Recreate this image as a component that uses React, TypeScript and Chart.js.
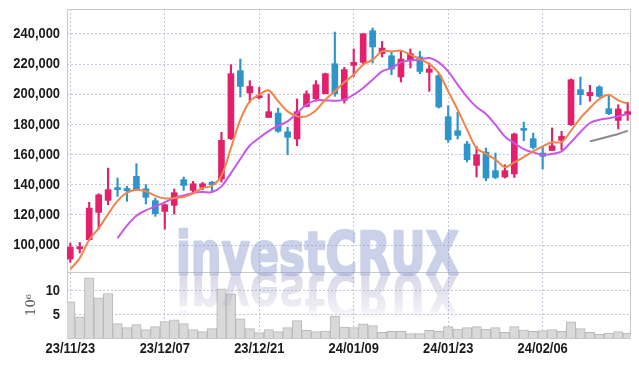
import React, { useEffect, useRef } from 'react';
import { Chart, registerables } from 'chart.js';

Chart.register(...registerables);

const dates = [
  '23/11/23', '23/11/24', '23/11/27', '23/11/28', '23/11/29', '23/11/30', '23/12/01', '23/12/04', '23/12/05', '23/12/06',
  '23/12/07', '23/12/08', '23/12/11', '23/12/12', '23/12/13', '23/12/14', '23/12/15', '23/12/18', '23/12/19', '23/12/20',
  '23/12/21', '23/12/22', '23/12/26', '23/12/27', '23/12/28', '24/01/02', '24/01/03', '24/01/04', '24/01/05', '24/01/08',
  '24/01/09', '24/01/10', '24/01/11', '24/01/12', '24/01/15', '24/01/16', '24/01/17', '24/01/18', '24/01/19', '24/01/22',
  '24/01/23', '24/01/24', '24/01/25', '24/01/26', '24/01/29', '24/01/30', '24/01/31', '24/02/01', '24/02/02', '24/02/05',
  '24/02/06', '24/02/07', '24/02/08', '24/02/13', '24/02/14', '24/02/15', '24/02/16', '24/02/19', '24/02/20', '24/02/21',
];

const opens = [
  90700, 97500, 103500, 121600, 129600, 137300, 137500, 145500, 137300, 129400,
  122300, 126300, 143300, 136200, 138200, 141700, 143700, 170500, 215600, 200800,
  197700, 184600, 187500, 175100, 170300, 191900, 197000, 200300, 220200, 195900,
  219100, 221100, 242100, 226900, 225500, 211400, 222400, 224700, 214500, 212300,
  185100, 175800, 167000, 152800, 161600, 149300, 145100, 147100, 177100, 170500,
  161000, 162700, 169400, 179800, 203000, 199000, 204800, 190400, 182600, 186600,
];
const highs = [
  101300, 101700, 128300, 134000, 151000, 144400, 138900, 153900, 140000, 131100,
  127200, 137100, 145100, 142200, 141500, 142200, 174700, 219600, 223300, 209000,
  204500, 200100, 190800, 178200, 196800, 202300, 209000, 214000, 241200, 217800,
  230000, 240100, 243900, 235000, 227800, 228400, 230000, 228400, 220700, 213600,
  192400, 188000, 168700, 165400, 164300, 161000, 153200, 174200, 181500, 174200,
  165400, 177600, 175400, 210100, 211400, 205900, 205600, 199000, 193000, 194600,
];
const lows = [
  88500, 94700, 103100, 110600, 126700, 132200, 128900, 136200, 127200, 119000,
  110600, 120500, 136200, 134400, 136700, 135100, 141700, 170000, 198100, 194600,
  196800, 184600, 174700, 159900, 165800, 191500, 195300, 200300, 198600, 194100,
  211800, 219600, 220700, 224700, 212900, 208100, 217400, 213600, 201900, 190800,
  168100, 170300, 155000, 145100, 142600, 144000, 144400, 144800, 169200, 163600,
  150400, 162700, 163200, 179300, 193000, 195300, 198100, 186400, 176900, 182600,
];
const closes = [
  98600, 98900, 124500, 133300, 136700, 136700, 136000, 136700, 131600, 120700,
  126700, 134700, 139500, 140600, 140600, 140000, 169400, 213600, 205200, 205200,
  199000, 188400, 175400, 171400, 188400, 200300, 206300, 213600, 200300, 216300,
  221100, 240100, 231300, 230600, 216700, 223300, 226900, 215100, 216700, 191500,
  169800, 172700, 156600, 159900, 144400, 144800, 149300, 173600, 176000, 164700,
  158800, 165800, 172000, 209600, 199700, 201200, 198600, 187100, 190200, 188400,
];

const ma5 = [
  84000, 91300, 103500, 111000, 120500, 129300, 134700, 136700, 135600, 132600,
  130900, 131100, 131900, 134300, 137800, 139300, 145900, 164300, 183100, 195300,
  199700, 202500, 195300, 188600, 185300, 185300, 189300, 196400, 201900, 207900,
  212900, 219600, 222900, 228400, 228400, 228900, 226200, 223300, 220000, 214000,
  201900, 189700, 176500, 164300, 160500, 156600, 151700, 154800, 158300, 162100,
  165400, 168100, 168300, 175800, 184200, 190800, 196800, 199700, 195900, 193700,
];
const ma20 = [
  null, null, null, null, null, 104600, 112800, 119400, 123000, 125600,
  128300, 131100, 132900, 134500, 135100, 135100, 138900, 147700, 157000, 166000,
  171000, 175500, 179100, 182000, 187500, 193000, 195900, 195900, 195700, 196400,
  199700, 204100, 209600, 215200, 217400, 221100, 222500, 222900, 224000, 221100,
  215200, 206300, 198100, 191500, 186900, 179800, 172000, 167600, 163600, 161400,
  159900, 160300, 162100, 168100, 174900, 180900, 183100, 184000, 185300, 186900,
];
const ma60 = [
  null, null, null, null, null, null, null, null, null, null,
  null, null, null, null, null, null, null, null, null, null,
  null, null, null, null, null, null, null, null, null, null,
  null, null, null, null, null, null, null, null, null, null,
  null, null, null, null, null, null, null, null, null, null,
  null, null, null, null, null, 168700, 170300, 172000, 173600, 175800,
];

// volume in millions of shares
const volumes = [
  7.68, 4.5, 12.74, 8.52, 9.43, 3.04, 2.19, 2.83, 1.77, 2.4,
  3.46, 3.88, 3.04, 1.77, 1.35, 1.98, 10.42, 9.36, 4.09, 1.98,
  1.14, 1.77, 1.35, 2.19, 3.67, 1.62, 1.35, 1.48, 4.65, 2.33,
  2.19, 3.03, 2.61, 1.2, 1.41, 1.41, 0.92, 0.92, 1.62, 1.41,
  2.4, 1.9, 2.19, 2.4, 1.9, 2.19, 1.2, 2.4, 1.69, 1.41,
  1.55, 1.77, 1.41, 3.45, 1.98, 1.2, 0.78, 1.06, 1.34, 1.06,
];

const priceTicks = [100000, 120000, 140000, 160000, 180000, 200000, 220000, 240000];
const volumeTicks = [5, 10];
const dateTickIndexes = [0, 10, 20, 30, 40, 50];

const UP = '#e2206b';
const DOWN = '#2f94c9';
const GRID = '#c3c7dc';
const FRAME = '#c9c9c9';
const LABEL_FONT = 'bold 15px "Liberation Sans", Arial, sans-serif';
const LABEL_SQUEEZE = 0.86;

const framePlugin = {
  id: 'frame',
  beforeDatasetsDraw(chart: any) {
    const { ctx, chartArea } = chart;
    const sep = chart.scales.y.bottom;
    ctx.save();
    ctx.strokeStyle = FRAME;
    ctx.lineWidth = 1;
    ctx.beginPath();
    ctx.rect(Math.round(chartArea.left) + 0.5, Math.round(chartArea.top) + 0.5,
      Math.round(chartArea.right - chartArea.left) - 1, Math.round(chartArea.bottom - chartArea.top));
    ctx.moveTo(chartArea.left, Math.round(sep) + 0.5);
    ctx.lineTo(chartArea.right, Math.round(sep) + 0.5);
    ctx.stroke();
    ctx.restore();
  },
};

const squeezedText = (ctx: any, text: string, x: number, y: number, align: string) => {
  ctx.save();
  ctx.translate(x, y);
  ctx.scale(LABEL_SQUEEZE, 1);
  ctx.textAlign = align;
  ctx.fillText(text, 0, 0);
  ctx.restore();
};

const labelPlugin = {
  id: 'labels',
  afterDraw(chart: any) {
    const { ctx, scales } = chart;
    ctx.save();
    ctx.font = LABEL_FONT;
    ctx.fillStyle = '#1a1a1a';
    ctx.textBaseline = 'middle';
    const right = scales.y.right - 7;
    priceTicks.forEach((v) => squeezedText(ctx, v.toLocaleString('en-US'), right, scales.y.getPixelForValue(v), 'right'));
    volumeTicks.forEach((v) => squeezedText(ctx, String(v), right, scales.yv.getPixelForValue(v), 'right'));
    const ly = scales.x.top + 11;
    dateTickIndexes.forEach((i) => squeezedText(ctx, dates[i], scales.x.getPixelForValue(i), ly, 'center'));
    ctx.restore();
  },
};

const watermarkPlugin = {
  id: 'watermark',
  afterDatasetsDraw(chart: any) {
    const { ctx } = chart;
    const text = 'investCRUX';
    const x = 176;
    const base = 274;
    const targetW = 283;
    const font = 'bold 58px "DejaVu Sans", sans-serif';

    const off = document.createElement('canvas');
    off.width = chart.width;
    off.height = chart.height;
    const o = off.getContext('2d')!;
    o.font = font;
    o.lineJoin = 'round';
    const sx = targetW / o.measureText(text).width;
    o.translate(x, base);
    o.scale(sx, 1);
    o.fillStyle = 'rgb(135,150,205)';
    o.strokeStyle = 'rgb(135,150,205)';
    o.lineWidth = 2.5;
    o.fillText(text, 0, 0);
    o.strokeText(text, 0, 0);

    ctx.save();
    ctx.globalAlpha = 0.44;
    ctx.drawImage(off, 0, 0);
    ctx.restore();

    // reflection
    ctx.save();
    ctx.font = font;
    ctx.beginPath();
    ctx.rect(0, base - 1, chart.width, 45);
    ctx.clip();
    ctx.translate(x, base);
    ctx.scale(sx, -1);
    const g = ctx.createLinearGradient(0, 0, 0, -45);
    g.addColorStop(0, 'rgba(160,160,200,0.42)');
    g.addColorStop(0.75, 'rgba(160,160,200,0.18)');
    g.addColorStop(1, 'rgba(160,160,200,0.0)');
    ctx.fillStyle = g;
    ctx.fillText(text, 0, 0);
    ctx.restore();
  },
};

export default function App() {
  const ref = useRef<HTMLCanvasElement>(null);
  useEffect(() => {
    const canvas = ref.current!;
    const idx = dates.map((_, i) => i);
    const colors = idx.map((i) => (closes[i] >= opens[i] ? UP : DOWN));
    const lineData = (arr: (number | null)[]) =>
      idx.filter((i) => arr[i] != null).map((i) => ({ x: i, y: arr[i] as number }));

    const chart = new Chart(canvas, {
      type: 'bar',
      data: {
        datasets: [
          {
            type: 'line', label: 'MA5', data: lineData(ma5), borderColor: '#ef8549', borderWidth: 2,
            pointRadius: 0, tension: 0.35, yAxisID: 'y', order: 1,
          } as any,
          {
            type: 'line', label: 'MA20', data: lineData(ma20), borderColor: '#c957ea', borderWidth: 2,
            pointRadius: 0, tension: 0.35, yAxisID: 'y', order: 2,
          } as any,
          {
            type: 'line', label: 'MA60', data: lineData(ma60), borderColor: '#8a8a8a', borderWidth: 2,
            pointRadius: 0, tension: 0.35, yAxisID: 'y', order: 2,
          } as any,
          {
            type: 'bar', label: 'body', data: idx.map((i) => ({ x: i, y: [opens[i], closes[i]] })),
            backgroundColor: colors, borderWidth: 0, barThickness: 6, minBarLength: 2, grouped: false,
            yAxisID: 'y', order: 3,
          } as any,
          {
            type: 'bar', label: 'wick', data: idx.map((i) => ({ x: i, y: [lows[i], highs[i]] })),
            backgroundColor: colors, borderWidth: 0, barThickness: 1.5, grouped: false,
            yAxisID: 'y', order: 4,
          } as any,
          {
            type: 'bar', label: 'volume', data: idx.map((i) => ({ x: i, y: volumes[i] })),
            backgroundColor: '#d9d9d9', borderColor: '#b8b8b8', borderWidth: 1,
            barPercentage: 1, categoryPercentage: 1, grouped: false, yAxisID: 'yv', order: 5,
          } as any,
        ],
      },
      options: {
        animation: false,
        responsive: false,
        devicePixelRatio: 1,
        layout: { padding: { top: 9, right: 8, left: 0, bottom: 0 } },
        plugins: { legend: { display: false }, tooltip: { enabled: false } },
        scales: {
          x: {
            type: 'linear',
            min: -0.35,
            max: 59.35,
            offset: false,
            afterBuildTicks: (s: any) => { s.ticks = dateTickIndexes.map((v) => ({ value: v })); },
            afterFit: (s: any) => { s.height = 28; },
            grid: { color: GRID, offset: false, drawTicks: false, lineWidth: 1 },
            border: { display: false, dash: [2, 2] },
            ticks: { display: false, autoSkip: false },
          },
          yv: {
            type: 'linear',
            position: 'left',
            stack: 'panels',
            stackWeight: 66,
            min: 0,
            max: 14,
            afterBuildTicks: (s: any) => { s.ticks = volumeTicks.map((v) => ({ value: v })); },
            afterFit: (s: any) => { s.width = 67; },
            grid: { color: GRID, drawTicks: false },
            border: { display: false, dash: [2, 2] },
            ticks: { display: false, autoSkip: false },
            title: {
              display: true, text: '10⁶', color: '#555',
              font: { family: '"DejaVu Serif", serif', size: 13 }, padding: { top: 24, bottom: 0 },
            },
          },
          y: {
            type: 'linear',
            position: 'left',
            stack: 'panels',
            stackWeight: 263,
            min: 82100,
            max: 256500,
            afterBuildTicks: (s: any) => { s.ticks = priceTicks.map((v) => ({ value: v })); },
            afterFit: (s: any) => { s.width = 67; },
            grid: { color: GRID, drawTicks: false },
            border: { display: false, dash: [2, 2] },
            ticks: { display: false, autoSkip: false },
          },
        },
      } as any,
      plugins: [framePlugin, watermarkPlugin, labelPlugin],
    });
    return () => chart.destroy();
  }, []);

  return (
    <div style={{ position: 'absolute', left: 0, top: 0, width: 639, height: 366, background: '#fff' }}>
      <canvas ref={ref} width={639} height={366} />
    </div>
  );
}
